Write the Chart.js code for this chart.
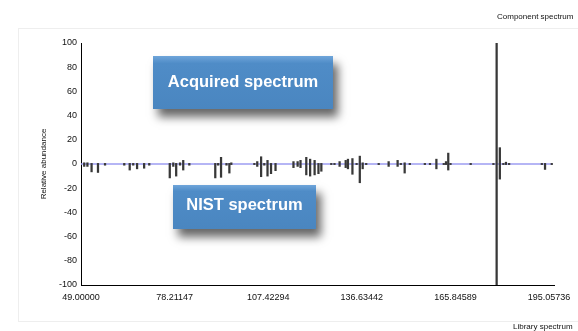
<!DOCTYPE html>
<html>
<head>
<meta charset="utf-8">
<title>Component vs library spectrum</title>
<script src="https://cdn.jsdelivr.net/npm/chart.js"></script>
<style>
  html, body { margin: 0; padding: 0; background: #fff; overflow: hidden; }
  #wrap { position: relative; width: 578px; height: 331px; font-family: "Liberation Sans", Arial, sans-serif; }
  #frame { position: absolute; left: 18px; top: 28px; width: 600px; height: 292px; border: 1px solid #eeeeee; }
  canvas { position: absolute; left: 0; top: 0; }
  .tag {
    position: absolute; color: #fff; font-weight: bold; font-size: 16.5px;
    display: flex; align-items: center; justify-content: center;
    background: linear-gradient(#6fa5da 0%, #4f8cc7 14%, #4a86c0 100%);
    box-shadow: 5px 8px 9px rgba(0,0,0,0.6);
    white-space: nowrap;
  }
  .side { position: absolute; font-size: 8px; color: #111; white-space: nowrap; }
</style>
</head>
<body>
<div id="wrap">
  <div id="frame"></div>
  <canvas id="chart" width="578" height="331"></canvas>
  <div class="side" style="left:497px; top:12px;">Component spectrum</div>
  <div class="side" style="left:513px; top:322px;">Library spectrum</div>
  <div class="tag" style="left:153px; top:56px; width:180px; height:53px; padding-bottom:2px; box-sizing:border-box;">Acquired spectrum</div>
  <div class="tag" style="left:173px; top:185px; width:143px; height:44px; padding-bottom:5px; box-sizing:border-box;">NIST spectrum</div>
</div>

<script>
  // m/z positions of the peaks, with component (up) and library (down) abundances
  const mz = [50, 51, 52.3, 54.3, 56.5, 62.5, 64.2, 65.3, 66.5, 68.7, 70.3,
    76.7, 77.8, 78.7, 79.9, 80.9, 82.8, 90.9, 91.8, 92.7, 94.4, 95.3, 95.9,
    103.1, 104, 105.2, 106.2, 107.2, 108.3, 109.7, 115.3, 116.6, 117.5, 119.3,
    120.5, 121.9, 123.1, 124, 127.1, 128.1, 129.7, 131.6, 132.3, 133.7, 135,
    136, 136.9, 138, 141.9, 145, 147.8, 148.8, 150, 151.6, 156.3, 157.9, 159.9,
    162.2, 162.9, 163.6, 164.3, 170.6, 177.7, 178.7, 179.7, 180.8, 181.6,
    182.6, 192.8, 193.8, 195.9];
  const componentAbund = [1, 1, 0.5, 0.5, 0.5, 0.5, 0.5, 0.5, 0.5, 0.5, 0.5,
    0.5, 1, 0.5, 1, 3, 0.5, 0.5, 0.5, 5.5, 0.5, 0.5, 1,
    0.5, 2, 6, 0.5, 3, 0.5, 0.5, 2, 2, 3, 5.5,
    4, 3, 0.5, 0.5, 0.5, 0.5, 2, 3, 4, 4.5, 0.5,
    6.5, 1, 0.5, 0.5, 2, 3, 0.5, 1, 0.5, 0.5, 0.5, 4,
    0.5, 2, 9, 0.5, 0.5, 0.5, 100, 13.5, 0.5, 1.5,
    0.5, 0.5, 0.5, 0.5];
  const libraryAbund = [2, 2, 6.5, 7, 1, 1, 5, 1, 4, 3.5, 1,
    11.5, 2, 10, 1, 5, 1, 11.5, 1, 11, 1, 7.5, 0.5,
    0.5, 2, 10.5, 1, 10, 8, 5.5, 3, 2, 3, 9,
    10, 9, 8, 6, 0.5, 0.5, 2, 3, 4, 8.5, 0.5,
    15.5, 4, 0.5, 0.5, 2, 2, 0.5, 7.5, 0.5, 0.5, 0.5, 4,
    0.5, 0.5, 5, 0.5, 0.5, 0.5, 100, 12.5, 0.5, 0.5,
    0.5, 0.5, 4.5, 0.5];
  const xTicks = [49.00000, 78.21147, 107.42294, 136.63442, 165.84589, 195.05736];
  const baseline = [49, 196];

  const peaks = mz.map((m, i) => ({ x: m, y: [-libraryAbund[i], componentAbund[i]] }));

  new Chart(document.getElementById('chart'), {
    type: 'bar',
    data: {
      datasets: [{
        data: peaks,
        backgroundColor: '#383838',
        barThickness: 1.6,
        order: 0
      }, {
        type: 'line',
        data: baseline.map(v => ({ x: v, y: 0 })),
        borderColor: '#9c9cf2',
        borderWidth: 1.5,
        pointRadius: 0,
        order: 1
      }]
    },
    options: {
      responsive: false,
      animation: false,
      layout: { padding: { top: 43, right: 24, left: 0, bottom: 0 } },
      plugins: { legend: { display: false }, tooltip: { enabled: false } },
      scales: {
        x: {
          type: 'linear',
          min: 49,
          max: 196.6,
          offset: false,
          grid: { drawOnChartArea: false, drawTicks: false },
          border: { color: '#000' },
          afterBuildTicks: s => { s.ticks = xTicks.map(v => ({ value: v })); },
          afterFit: s => { s.height = 46; },
          ticks: {
            callback: v => v.toFixed(5),
            autoSkip: false,
            maxRotation: 0,
            padding: 7,
            color: '#111',
            font: { family: 'Liberation Sans', size: 9 }
          }
        },
        y: {
          min: -100,
          max: 100,
          grid: { drawOnChartArea: false, drawTicks: false },
          border: { color: '#000' },
          afterFit: s => { s.width = 81; },
          ticks: {
            stepSize: 20,
            padding: 4,
            color: '#111',
            font: { family: 'Liberation Sans', size: 9 }
          },
          title: {
            display: true,
            text: 'Relative abundance',
            color: '#111',
            font: { family: 'Liberation Sans', size: 8 },
            padding: { top: 39, bottom: 0 }
          }
        }
      }
    }
  });
</script>
</body>
</html>
